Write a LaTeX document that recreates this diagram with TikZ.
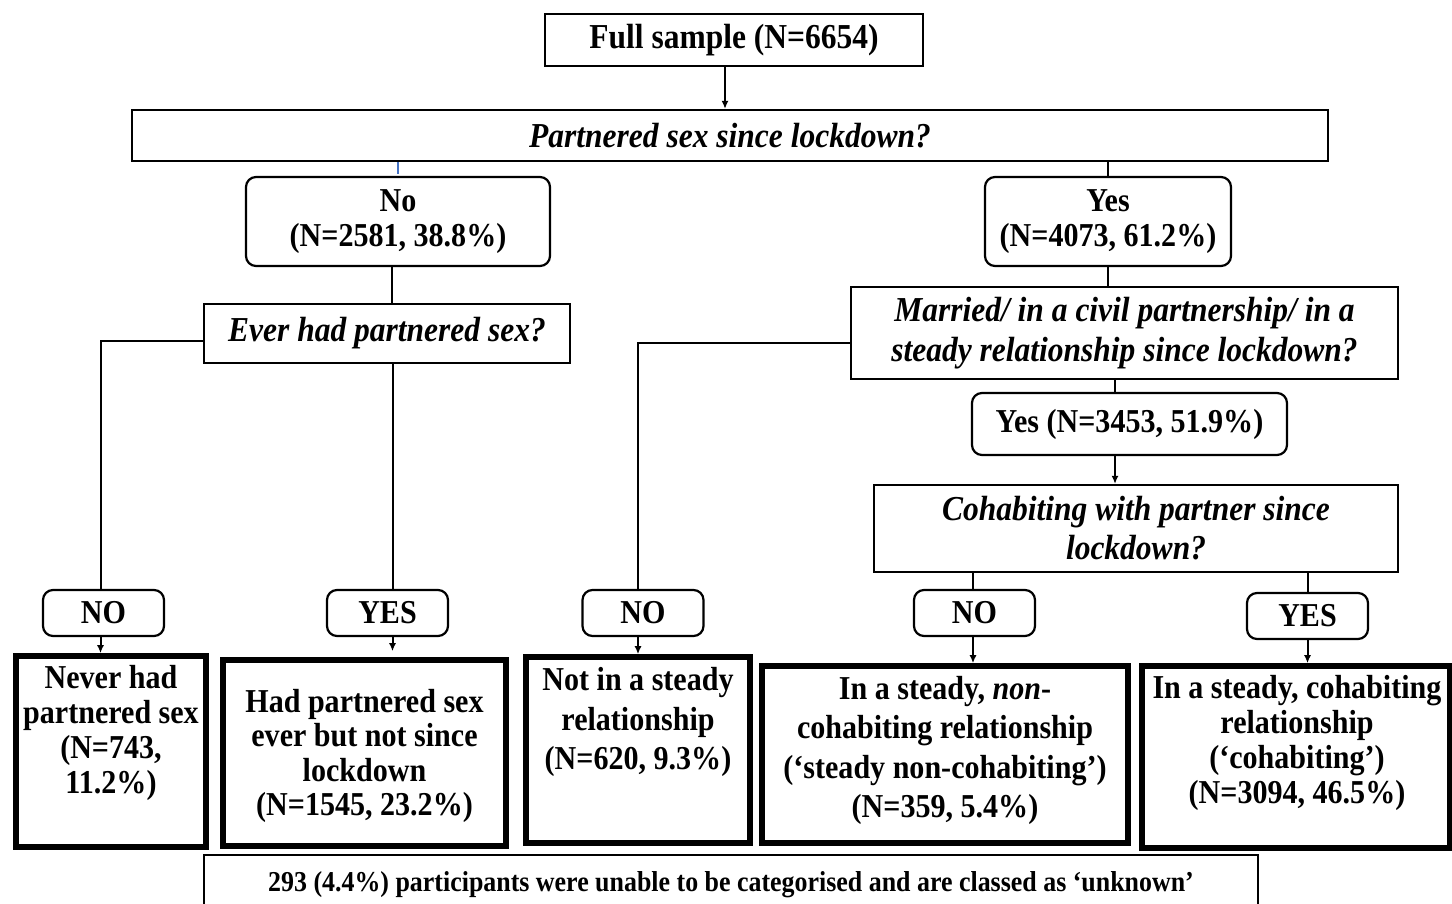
\documentclass[tikz,border=0pt]{standalone}
\usepackage{fontspec}
\setmainfont{Liberation Serif}[FakeStretch=0.9]
\usepackage{tikz}
\usetikzlibrary{arrows.meta,positioning}
\definecolor{tickblue}{RGB}{68,114,196}

\begin{document}
\begin{tikzpicture}[x=0.5pt,y=-0.5pt,font=\bfseries\fontsize{16.7pt}{17.5pt}\selectfont]
\tikzset{qbox/.style={draw,line width=1.1pt,inner sep=0pt,align=center,font=\bfseries\itshape\fontsize{17.5pt}{20pt}\selectfont},
  rbox/.style={draw,line width=1.1pt,rounded corners=5pt,inner sep=0pt,align=center},
  resbox/.style={draw,line width=2.8pt,inner sep=0pt},
  rtxt/.style={inner sep=0pt,align=center},
  link/.style={line width=1pt},
  arr/.style={link,-{Latex[length=4pt,width=3.5pt]}}}
\useasboundingbox (0,0) rectangle (1452,904);
% top of the tree
\node[qbox,font=\bfseries\fontsize{17.5pt}{18pt}\selectfont,minimum width=189pt,minimum height=26pt] (full) at (734,40) {Full sample (N=6654)};
\node[qbox,minimum width=598pt,minimum height=25.5pt] (partq) at (730,135.5) {Partnered sex since lockdown?};
\node[rbox,minimum width=152pt,minimum height=44.5pt] (no) at (398,221.5) {No\\(N=2581, 38.8\%)};
\node[rbox,minimum width=123pt,minimum height=44.5pt] (yes) at (1108,221.5) {Yes\\(N=4073, 61.2\%)};
\draw[arr] ([xshift=-4.5pt]full.south) -- ([xshift=-4.5pt]full.south |- partq.north);
\draw[link] (yes.north) -- (yes.north |- partq.south);
\draw[tickblue,line width=1pt] (partq.south -| no.north) -- ++(0,12);

% left branch
\node[qbox,minimum width=183pt,minimum height=29.5pt] (everq) at (387,333.5) {Ever had partnered sex?};
\node[rbox,minimum width=60.5pt,minimum height=23pt] (noA) at (103.5,613) {NO};
\node[rbox,minimum width=60.5pt,minimum height=23pt] (yesA) at (387.5,613) {YES};
\draw[link] ([xshift=-3pt]no.south) -- ([xshift=-3pt]no.south |- everq.north);
\draw[link] ([yshift=-3.5pt]everq.west) -| ([xshift=-1.5pt]noA.north);
\draw[link] ([xshift=2.5pt]yesA.north |- everq.south) -- ([xshift=2.5pt]yesA.north);

% right branch
\node[qbox,minimum width=273.5pt,minimum height=46pt] (marq) at (1124.5,333) {Married/ in a civil partnership/ in a\\steady relationship since lockdown?};
\node[rbox,minimum width=157.5pt,minimum height=31pt] (yes2) at (1129.5,424) {Yes (N=3453, 51.9\%)};
\node[qbox,font=\bfseries\itshape\fontsize{17.5pt}{19.5pt}\selectfont,minimum width=262pt,minimum height=43.5pt] (cohq) at (1136,528.5) {Cohabiting with partner since\\lockdown?};
\node[rbox,minimum width=60.5pt,minimum height=23pt] (noB) at (643,613) {NO};
\node[rbox,minimum width=60.5pt,minimum height=23pt] (noC) at (974.5,613) {NO};
\node[rbox,minimum width=60.5pt,minimum height=23pt] (yesC) at (1307.5,616) {YES};
\draw[link] (yes.south) -- (yes.south |- marq.north);
\draw[link] ([yshift=-5pt]marq.west) -| ([xshift=-2.5pt]noB.north);
\draw[link] ([xshift=-7.25pt]yes2.north |- marq.south) -- ([xshift=-7.25pt]yes2.north);
\draw[arr] ([xshift=-7.25pt]yes2.south) -- ([xshift=-7.25pt]yes2.south |- cohq.north);
\draw[link] ([xshift=-0.75pt]noC.north |- cohq.south) -- ([xshift=-0.75pt]noC.north);
\draw[link] (yesC.north |- cohq.south) -- (yesC.north);

% outcomes
\node[resbox,minimum width=95pt,minimum height=95.5pt] (never) at (111,751.5) {};
\node[resbox,minimum width=141.5pt,minimum height=93pt] (hadsex) at (364.5,753) {};
\node[resbox,minimum width=112pt,minimum height=93pt] (notsteady) at (638,750) {};
\node[resbox,minimum width=183pt,minimum height=88.5pt] (steadync) at (945,754.5) {};
\node[resbox,minimum width=154pt,minimum height=91pt] (steadyco) at (1296,757) {};
\node[rtxt] (nevertxt) at (111,733) {Never had\\partnered sex\\(N=743,\\11.2\%)};
\node[rtxt,font=\bfseries\fontsize{16.7pt}{17.2pt}\selectfont] (hadsextxt) at (364.5,756) {Had partnered sex\\ever but not since\\lockdown\\(N=1545, 23.2\%)};
\node[rtxt,font=\bfseries\fontsize{16.7pt}{19.7pt}\selectfont] (notsteadytxt) at (638,722) {Not in a steady\\relationship\\(N=620, 9.3\%)};
\node[rtxt,font=\bfseries\fontsize{16.7pt}{19.6pt}\selectfont] (steadynctxt) at (945,750.5) {In a steady, \textit{non}-\\cohabiting relationship\\(‘steady non-cohabiting’)\\(N=359, 5.4\%)};
\node[rtxt] (steadycotxt) at (1297,743) {In a steady, cohabiting\\relationship\\(‘cohabiting’)\\(N=3094, 46.5\%)};
\draw[arr] ([xshift=-1.5pt]noA.south) -- ([xshift=-1.5pt]noA.south |- never.north);
\draw[arr,shorten >=3pt] ([xshift=2.5pt]yesA.south) -- ([xshift=2.5pt]yesA.south |- hadsex.north);
\draw[arr] ([xshift=-2.5pt]noB.south) -- ([xshift=-2.5pt]noB.south |- notsteady.north);
\draw[arr] ([xshift=-0.75pt]noC.south) -- ([xshift=-0.75pt]noC.south |- steadync.north);
\draw[arr] (yesC.south) -- (yesC.south |- steadyco.north);

% unknown group
\node[draw,line width=1.1pt,minimum width=527pt,minimum height=30pt,font=\bfseries\fontsize{14.4pt}{15pt}\selectfont,anchor=north] (unknown) at (731,854) {293 (4.4\%) participants were unable to be categorised and are classed as ‘unknown’};
\end{tikzpicture}
\end{document}
